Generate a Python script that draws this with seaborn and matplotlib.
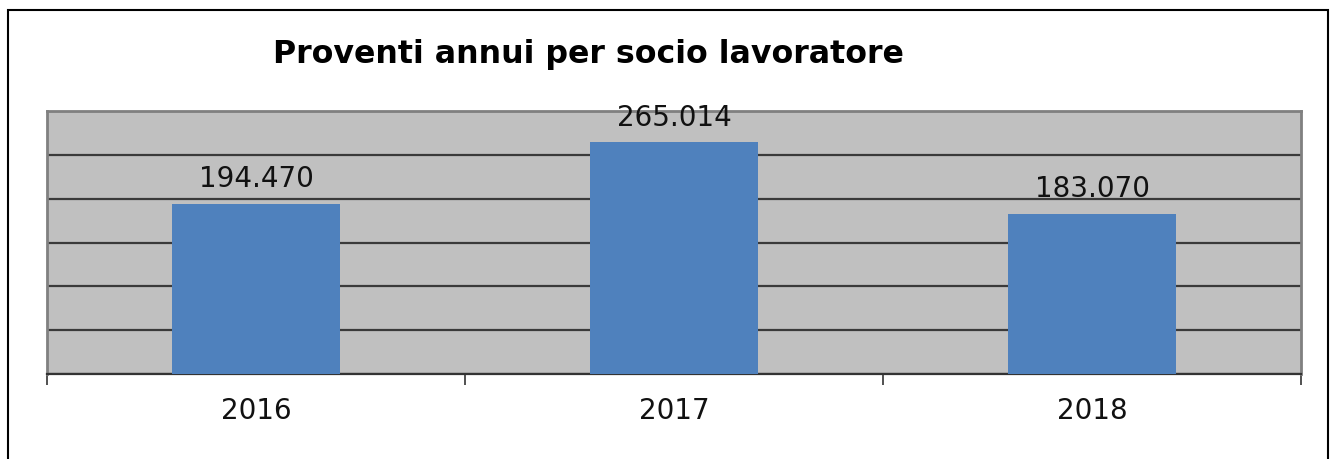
import matplotlib
matplotlib.use("Agg")
import matplotlib.pyplot as plt
import seaborn as sns
import pandas as pd
from matplotlib.patches import Rectangle

# dati
anni = ["2016", "2017", "2018"]
proventi = [194470, 265014, 183070]
etichette = ["194.470", "265.014", "183.070"]

df = pd.DataFrame({"anno": anni, "proventi": proventi})

sns.set_style("white")
plt.rcParams["font.family"] = ["DejaVu Sans"]
plt.rcParams["text.color"] = "black"
plt.rcParams["xtick.color"] = "#333333"
plt.rcParams["xtick.labelcolor"] = "#111111"

fig = plt.figure(figsize=(13.31, 4.6), dpi=100)
ax = fig.add_axes([47 / 1331, 1 - 375 / 460, (1301 - 47) / 1331, (375 - 112) / 460])

ax.set_facecolor("#C0C0C0")
sns.barplot(data=df, x="anno", y="proventi", color="#4F81BD", width=0.4,
            saturation=1, linewidth=0, ax=ax, zorder=3)

ax.set_ylim(0, 300000)
ax.set_xlim(-0.5, 2.5)
ax.set_yticks(range(0, 300001, 50000))
ax.yaxis.grid(True, color="#3A3A3A", linewidth=1.6, zorder=1)
ax.set_axisbelow(True)
ax.tick_params(axis="y", left=False, labelleft=False)

# tacche ai bordi delle categorie, etichette al centro
ax.set_xticks([-0.5, 0.5, 1.5, 2.5])
ax.set_xticklabels([])
ax.tick_params(axis="x", which="major", direction="out", length=8,
               width=1.2, bottom=True)
ax.set_xticks([0, 1, 2], minor=True)
ax.set_xticklabels(anni, minor=True, fontsize=20)
ax.tick_params(axis="x", which="minor", length=0, pad=16)
ax.set_xlabel("")
ax.set_ylabel("")

for side in ["top", "left", "right"]:
    ax.spines[side].set_color("#808080")
    ax.spines[side].set_linewidth(2)
ax.spines["bottom"].set_color("#333333")
ax.spines["bottom"].set_linewidth(1.6)

for i, (v, t) in enumerate(zip(proventi, etichette)):
    ax.annotate(t, (i, v), xytext=(0, 8), textcoords="offset points",
                ha="center", va="bottom", fontsize=20, color="#111111")

fig.text(588 / 1331, 1 - 55 / 460, "Proventi annui per socio lavoratore",
         ha="center", va="center", fontsize=22.8, fontweight="bold",
         color="black")

# cornice esterna
fig.patches.append(Rectangle((8 / 1331, -0.05), (1328 - 8) / 1331, 1.05 - 11 / 460,
                             transform=fig.transFigure, fill=False,
                             edgecolor="black", linewidth=1.5))

fig.savefig("out.png", dpi=100)
